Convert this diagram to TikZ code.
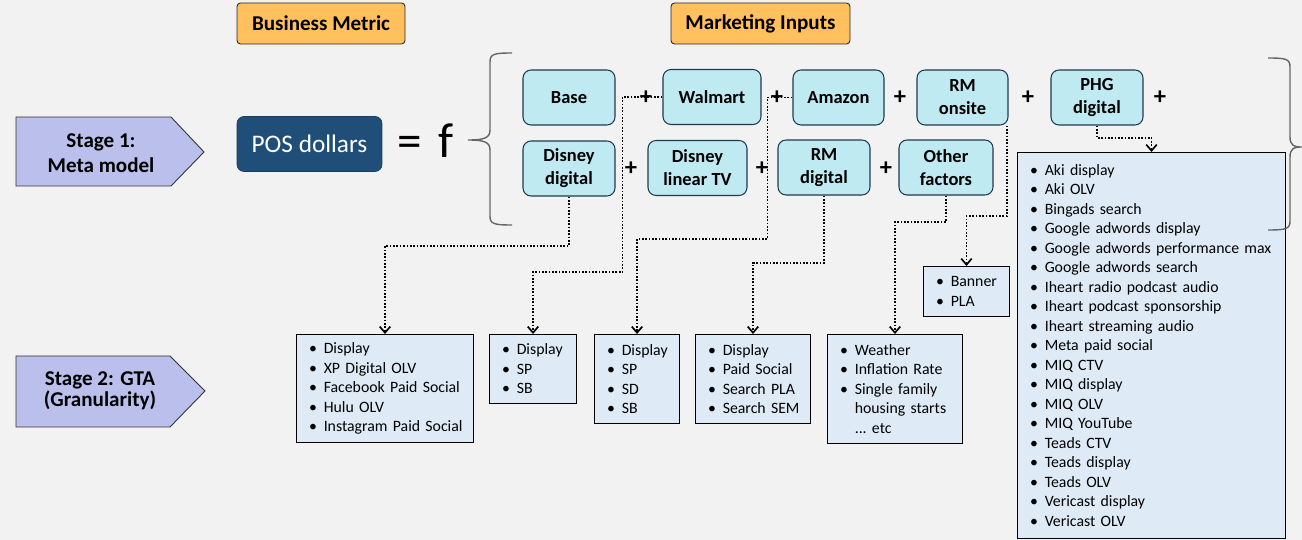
\documentclass[tikz,border=0pt]{standalone}
\usepackage{fontspec}
\setmainfont{Carlito}
\usetikzlibrary{arrows.meta}
\definecolor{fond}{HTML}{F2F2F2}
\definecolor{titreorange}{HTML}{FFC05D}
\definecolor{lavande}{HTML}{BBBFEC}
\definecolor{posbleu}{HTML}{1F4E79}
\definecolor{cyanentree}{HTML}{C0EAF1}
\definecolor{bordentree}{HTML}{1F3A4F}
\definecolor{bleuliste}{HTML}{DEEBF7}
\newcommand{\itm}{\makebox[10.5pt][l]{\hspace{2.2pt}\textbullet}}
\tikzset{
  titre/.style={draw=black!85,fill=titreorange,rounded corners=2pt,minimum height=0.82cm,line width=0.5pt,font=\fontsize{12}{14}\selectfont\bfseries},
  etape/.style={draw=black!80,fill=lavande,line width=0.5pt},
  etapetexte/.style={align=center,font=\bfseries},
  entree/.style={draw=bordentree,fill=cyanentree,rounded corners=0.16cm,minimum height=1.1cm,line width=0.6pt,align=center,font=\fontsize{10.5}{13}\selectfont\bfseries},
  liste/.style={draw=black,fill=bleuliste,anchor=north west,align=left,inner xsep=5pt,inner ysep=0pt,line width=0.6pt,font=\fontsize{9}{11.1}\selectfont},
  plus/.style={inner sep=0pt,font=\fontsize{14}{14}\selectfont\bfseries},
  fleche/.style={line width=0.95pt,dash pattern=on 0.95pt off 0.95pt,-{Straight Barb[length=3.5pt,width=6pt]}},
  accolade/.style={draw=black!60,line width=0.8pt}
}
\begin{document}
\begin{tikzpicture}[x=0.02cm,y=-0.02cm]
    \fill [fond] (0,0) rectangle (1302,540);
    % Titres
    \node [titre,minimum width=3.36cm] (metrique) at (321,23.5) {Business Metric};
    \node [titre,minimum width=3.58cm] (intrants) at (760.5,23.5) {Marketing Inputs};
    % Étapes
    \draw [etape] (16,117) -- (171,117) -- (204,152) -- (171,186) -- (16,186) -- cycle;
    \node [etapetexte,font=\fontsize{12}{14.6}\selectfont\bfseries] (etapeun) at (101,153) {Stage 1:\\Meta model};
    \draw [etape] (16,356) -- (170,356) -- (205,391) -- (170,427) -- (16,427) -- cycle;
    \node [etapetexte,font=\fontsize{12}{12}\selectfont\bfseries] (etapedeux) at (100,391) {Stage 2: GTA\\(Granularity)};
    % Équation
    \node [draw=posbleu!80!black,fill=posbleu,rounded corners=0.14cm,minimum width=2.9cm,minimum height=1.1cm,text=white,font=\fontsize{14.4}{16}\selectfont] (pos) at (309.5,144) {POS dollars};
    \node [anchor=base,font=\fontsize{28}{30}\selectfont] (egal) at (410,158) {=};
    \node [anchor=base,font=\fontsize{28}{30}\selectfont] (fonction) at (446,158) {f};
    \draw [accolade] (512,53) .. controls (494,53) and (490,54) .. (490,62) -- (490,130) .. controls (490,138) and (484,140) .. (468,140) .. controls (484,140) and (490,142) .. (490,150) -- (490,216) .. controls (490,224) and (494,225) .. (512,225);
    % Entrées
    \node [entree,minimum width=1.84cm] (base) at (569,97.5) {Base};
    \node [entree,minimum width=1.96cm] (walmart) at (712,97) {Walmart};
    \node [entree,minimum width=1.82cm] (amazon) at (838.5,97.5) {Amazon};
    \node [entree,minimum width=1.82cm] (rmon) at (962.5,97.5) {RM\\onsite};
    \node [entree,minimum width=1.84cm] (phg) at (1097,97.5) {PHG\\digital};
    \node [entree,minimum width=1.84cm] (disdig) at (569,168.5) {Disney\\digital};
    \node [entree,minimum width=1.98cm] (dislin) at (697.5,168) {Disney\\linear TV};
    \node [entree,minimum width=1.84cm] (rmdig) at (824,167.5) {RM\\digital};
    \node [entree,minimum width=1.88cm] (autres) at (946,167.5) {Other\\factors};
    % Listes
    \node [liste,text width=90.7pt,minimum height=2.16cm] (listedisney) at (296,334) {\itm Display\\\itm XP Digital OLV\\\itm Facebook Paid Social\\\itm Hulu OLV\\\itm Instagram Paid Social};
    \node [liste,text width=39.5pt,minimum height=1.38cm] (listewalmart) at (489,334) {\itm Display\\\itm SP\\\itm SB};
    \node [liste,text width=38.4pt,minimum height=1.78cm] (listeamazon) at (594,334) {\itm Display\\\itm SP\\\itm SD\\\itm SB};
    \node [liste,text width=55.4pt,minimum height=1.78cm] (listermdig) at (695,334) {\itm Display\\\itm Paid Social\\\itm Search PLA\\\itm Search SEM};
    \node [liste,text width=66.8pt,minimum height=2.18cm] (listeautres) at (827,334) {\itm Weather\\\itm Inflation Rate\\\itm Single family\\\hspace*{10.5pt}housing starts\\\hspace*{10.5pt}...~etc};
    \node [liste,text width=38.9pt,minimum height=1.0cm] (listermon) at (923,266) {\itm Banner\\\itm PLA};
    \node [liste,text width=142.5pt,minimum height=7.72cm] (listephg) at (1017,152) {\itm Aki display\\\itm Aki OLV\\\itm Bingads search\\\itm Google adwords display\\\itm Google adwords performance max\\\itm Google adwords search\\\itm Iheart radio podcast audio\\\itm Iheart podcast sponsorship\\\itm Iheart streaming audio\\\itm Meta paid social\\\itm MIQ CTV\\\itm MIQ display\\\itm MIQ OLV\\\itm MIQ YouTube\\\itm Teads CTV\\\itm Teads display\\\itm Teads OLV\\\itm Vericast display\\\itm Vericast OLV};
    \draw [accolade] (1268,58) .. controls (1286,58) and (1290,59) .. (1290,67) -- (1290,137) .. controls (1290,145) and (1294,147) .. (1300,147) .. controls (1294,147) and (1290,149) .. (1290,157) -- (1290,221) .. controls (1290,229) and (1286,230) .. (1268,230);
    % Flèches
    \draw [fleche] (disdig.south) |- (listedisney.north |- 0,246) -- (listedisney.north);
    \draw [fleche] (walmart.west) -- ++(-40,0) |- (listewalmart.north |- 0,272) -- (listewalmart.north);
    \draw [fleche] (amazon.west) -- ++(-25,0) |- (listeamazon.north |- 0,239) -- (listeamazon.north);
    \draw [fleche] (rmdig.south) |- (listermdig.north |- 0,263) -- (listermdig.north);
    \draw [fleche] (autres.south) |- (listeautres.north |- 0,222) -- (listeautres.north);
    \draw [fleche] ([xshift=-0.03cm]rmon.south east) |- (listermon.north |- 0,216) -- (listermon.north);
    \draw [fleche] (phg.south) |- (listephg.north |- 0,138) -- (listephg.north);
    % Signes plus
    \foreach \x/\y [count=\i] in {646/98,777/98,900/98,1028/98,1160/98,631/169,762/169,886/169}
      \node [plus] (plus\i) at (\x,\y) {+};
\end{tikzpicture}
\end{document}
